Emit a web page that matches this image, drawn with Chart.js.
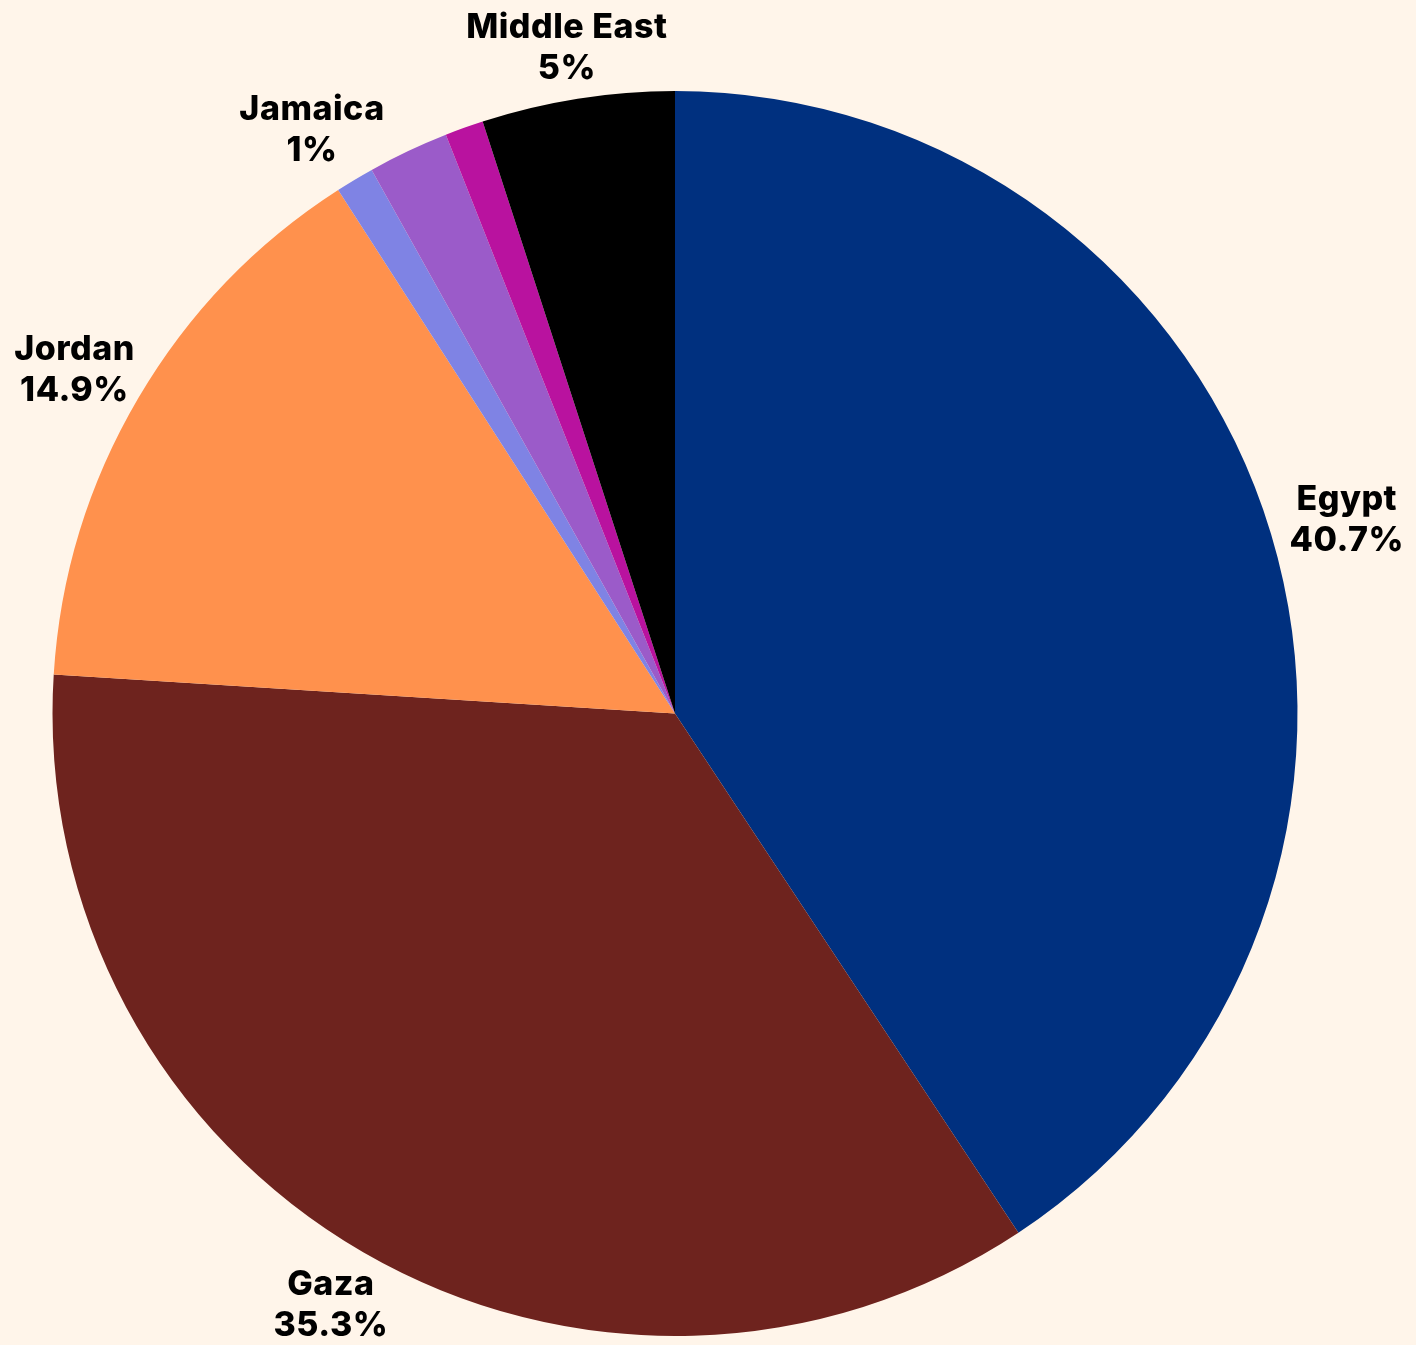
<!DOCTYPE html>
<html>
<head>
<meta charset="utf-8">
<script src="https://cdn.jsdelivr.net/npm/chart.js@4/dist/chart.umd.min.js"></script>
<style>
  html, body { margin: 0; padding: 0; background: #fff5ea; }
  #wrap { width: 1416px; height: 1345px; position: relative; }
</style>
</head>
<body>
<div id="wrap"><canvas id="pie"></canvas></div>
<script>
// Slice data, clockwise from 12 o'clock
var countries = ['Egypt', 'Gaza', 'Jordan', 'Jamaica', '', '', 'Middle East'];
var shares = [40.7, 35.3, 14.9, 1, 2.1, 1, 5];
var colors = ['#00307f', '#6e231e', '#ff914d', '#7f83e4', '#9b5bc9', '#b9129f', '#000000'];

var LABEL_FONT = '800 34px Inter, "Noto Sans", sans-serif';
var LINE_H = 41;
var LABEL_OFFSET = 12;

// Draws "name / value%" outside each named slice (datalabels-style end/end)
var sliceLabels = {
    id: 'sliceLabels',
    afterDatasetsDraw: function(chart) {
        var ctx = chart.ctx;
        var meta = chart.getDatasetMeta(0);
        ctx.save();
        ctx.font = LABEL_FONT;
        ctx.letterSpacing = '0.5px';
        ctx.fillStyle = '#000';
        ctx.textAlign = 'center';
        ctx.textBaseline = 'middle';
        meta.data.forEach(function(arc, i) {
            if (!countries[i]) return;
            var p = arc.getProps(['x', 'y', 'startAngle', 'endAngle', 'outerRadius'], true);
            var mid = (p.startAngle + p.endAngle) / 2;
            var vx = Math.cos(mid), vy = Math.sin(mid);
            var lines = [countries[i], shares[i] + '%'];
            var w = Math.max.apply(null, lines.map(function(l) { return ctx.measureText(l).width; }));
            var h = lines.length * LINE_H;
            var vs = 1 / Math.max(Math.abs(vx), Math.abs(vy));
            var cx = p.x + vx * p.outerRadius + (w / 2) * vx * vs + LABEL_OFFSET * vx + 7;
            var cy = p.y + vy * p.outerRadius + (h / 2) * vy * vs + LABEL_OFFSET * vy;
            lines.forEach(function(l, k) {
                ctx.fillText(l, cx, cy - h / 2 + LINE_H * (k + 0.5) + 2);
            });
        });
        ctx.restore();
    }
};

var pieChart = new Chart(document.getElementById('pie'), {
    type: 'pie',
    data: {
        labels: countries,
        datasets: [{
            data: shares,
            backgroundColor: colors,
            borderWidth: 0
        }]
    },
    options: {
        responsive: true,
        maintainAspectRatio: false,
        animation: false,
        layout: {
            padding: { left: 52, right: 118, top: 91, bottom: 9 }
        },
        plugins: {
            legend: { display: false },
            tooltip: { enabled: false }
        }
    },
    plugins: [sliceLabels]
});
</script>
</body>
</html>
